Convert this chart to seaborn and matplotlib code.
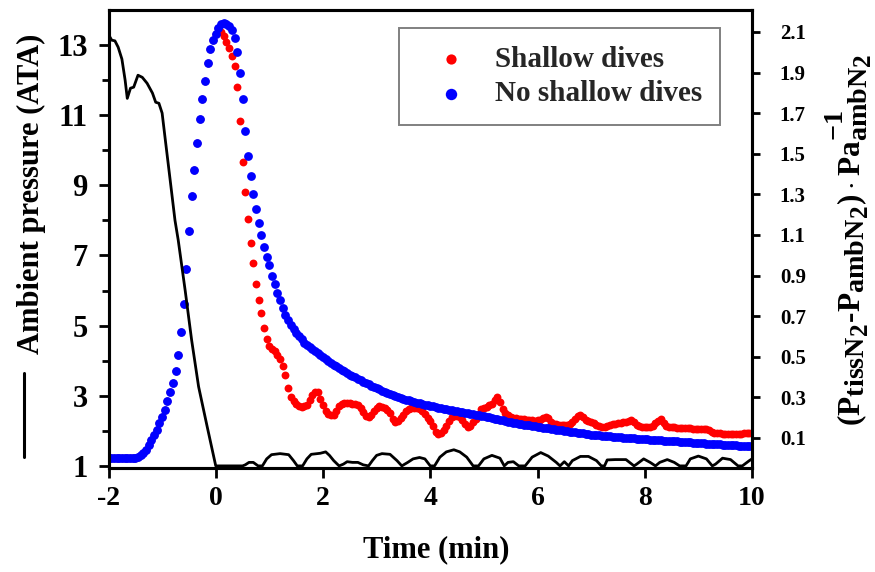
import numpy as np
import pandas as pd
import matplotlib
matplotlib.use("Agg")
import matplotlib.pyplot as plt
import matplotlib._mathtext as _mt
import seaborn as sns
from matplotlib.lines import Line2D

# ---------------- data ----------------
# sampling grid of the two tissue-tension series (min)
t_start, t_stop, t_step = -2.0, 10.0, 0.05

# common part of both series (t = -2.00 ... 0.05)
rise_common = [0.0, 0.0, 0.0, 0.0, 0.0, 0.0, 0.0, 0.0, 0.0,
               0.001, 0.002, 0.006, 0.014, 0.025, 0.042, 0.065, 0.09, 0.115, 0.14, 0.172,
               0.205, 0.24, 0.28, 0.325, 0.37, 0.43, 0.51, 0.62, 0.76, 0.93,
               1.12, 1.29, 1.42, 1.555, 1.67, 1.77, 1.86, 1.945, 2.015, 2.06,
               2.09, 2.12]

# "Shallow dives" after t = 0.05 (t = 0.10 ... 10.00)
shallow_after = [
    2.10, 2.08, 2.05, 2.02, 1.98, 1.93, 1.83, 1.66, 1.46, 1.31,
    1.18, 1.06, 0.96, 0.86, 0.78, 0.714, 0.64, 0.585, 0.555, 0.54,
    0.53, 0.51, 0.49, 0.455, 0.41, 0.345, 0.30, 0.28, 0.265, 0.255,
    0.254, 0.256, 0.263, 0.285, 0.31, 0.325, 0.325, 0.29, 0.26, 0.235,
    0.22, 0.213, 0.213, 0.235, 0.255, 0.265, 0.27, 0.27, 0.27, 0.268,
    0.265, 0.26, 0.25, 0.23, 0.21, 0.205, 0.215, 0.232, 0.248, 0.255,
    0.252, 0.248, 0.24, 0.225, 0.195, 0.18, 0.185, 0.20, 0.215, 0.235,
    0.245, 0.248, 0.25, 0.25, 0.245, 0.235, 0.22, 0.20, 0.185, 0.16,
    0.13, 0.12, 0.125, 0.14, 0.16, 0.185, 0.205, 0.21, 0.208, 0.205,
    0.19, 0.17, 0.156, 0.16, 0.18, 0.195, 0.22, 0.245, 0.25, 0.254,
    0.26, 0.268, 0.285, 0.30, 0.275, 0.245, 0.225, 0.212, 0.205, 0.20,
    0.197, 0.195, 0.193, 0.192, 0.19, 0.188, 0.186, 0.185, 0.186, 0.19,
    0.198, 0.205, 0.20, 0.178, 0.17, 0.168, 0.166, 0.165, 0.164, 0.165,
    0.17, 0.18, 0.195, 0.21, 0.213, 0.205, 0.19, 0.183, 0.178, 0.172,
    0.165, 0.16, 0.155, 0.155, 0.16, 0.165, 0.168, 0.17, 0.172, 0.175,
    0.177, 0.18, 0.185, 0.19, 0.18, 0.165, 0.157, 0.155, 0.154, 0.153,
    0.155, 0.16, 0.172, 0.185, 0.192, 0.175, 0.16, 0.155, 0.153, 0.152,
    0.15, 0.149, 0.148, 0.148, 0.148, 0.147, 0.146, 0.145, 0.145, 0.144,
    0.143, 0.142, 0.138, 0.13, 0.125, 0.123, 0.122, 0.121, 0.12, 0.12,
    0.12, 0.12, 0.12, 0.12, 0.121, 0.122, 0.123, 0.124, 0.123]

# "No shallow dives" after t = 0.05 (t = 0.10 ... 10.00)
noshallow_after = [
    2.14, 2.145, 2.14, 2.13, 2.11, 2.07, 2.00, 1.90, 1.77, 1.61,
    1.49, 1.39, 1.30, 1.23, 1.16, 1.10, 1.04, 0.99, 0.95, 0.90,
    0.86, 0.815, 0.78, 0.74, 0.705, 0.68, 0.655, 0.635, 0.618, 0.60,
    0.585, 0.57, 0.558, 0.547, 0.537, 0.527, 0.517, 0.507, 0.497, 0.487,
    0.477, 0.468, 0.46, 0.452, 0.444, 0.436, 0.428, 0.42, 0.412, 0.405,
    0.398, 0.391, 0.385, 0.378, 0.372, 0.365, 0.358, 0.351, 0.345, 0.339,
    0.333, 0.328, 0.323, 0.318, 0.313, 0.308, 0.303, 0.298, 0.293, 0.289,
    0.285, 0.281, 0.278, 0.274, 0.271, 0.267, 0.264, 0.261, 0.258, 0.255,
    0.252, 0.249, 0.246, 0.244, 0.241, 0.238, 0.236, 0.233, 0.231, 0.228,
    0.226, 0.223, 0.221, 0.218, 0.216, 0.213, 0.211, 0.208, 0.206, 0.204,
    0.201, 0.198, 0.195, 0.192, 0.189, 0.186, 0.184, 0.181, 0.178, 0.176,
    0.173, 0.171, 0.169, 0.166, 0.164, 0.162, 0.16, 0.157, 0.155, 0.153,
    0.151, 0.149, 0.147, 0.145, 0.143, 0.141, 0.139, 0.137, 0.135, 0.133,
    0.131, 0.129, 0.127, 0.125, 0.123, 0.122, 0.12, 0.119, 0.117, 0.116,
    0.114, 0.113, 0.112, 0.11, 0.109, 0.108, 0.106, 0.105, 0.104, 0.103,
    0.102, 0.101, 0.1, 0.099, 0.098, 0.097, 0.096, 0.095, 0.094, 0.093,
    0.092, 0.091, 0.09, 0.089, 0.088, 0.087, 0.086, 0.085, 0.084, 0.083,
    0.083, 0.082, 0.081, 0.08, 0.079, 0.078, 0.077, 0.076, 0.075, 0.074,
    0.073, 0.072, 0.071, 0.07, 0.07, 0.069, 0.068, 0.067, 0.066, 0.065,
    0.064, 0.064, 0.063, 0.062, 0.061, 0.061, 0.06, 0.06, 0.06]

# ambient pressure profile (left axis, ATA)
press_time = [-2.0, -1.94, -1.88, -1.82, -1.75, -1.69, -1.65, -1.59, -1.53, -1.45,
              -1.37, -1.28, -1.18, -1.12, -1.06, -1.0, -0.94, -0.85, -0.76, -0.7,
              -0.57, -0.45, -0.32, -0.16, 0.0,
              0.5, 0.55, 0.62, 0.7, 0.79, 0.87, 0.95, 1.04, 1.2, 1.36,
              1.45, 1.52, 1.62, 1.7, 1.78, 1.95, 2.05, 2.12, 2.2, 2.3,
              2.38, 2.45, 2.55, 2.65, 2.75, 2.85, 2.92, 3.0, 3.1, 3.25,
              3.38, 3.47, 3.58, 3.68, 3.8, 3.9, 4.0, 4.08, 4.18, 4.3,
              4.44, 4.55, 4.68, 4.8, 4.9, 5.0, 5.15, 5.3, 5.38, 5.45,
              5.55, 5.65, 5.77, 5.9, 6.06, 6.2, 6.35, 6.42, 6.5, 6.58,
              6.65, 6.8, 6.95, 7.1, 7.19, 7.25, 7.3, 7.45, 7.65, 7.8,
              7.85, 7.98, 8.1, 8.2, 8.28, 8.42, 8.55, 8.65, 8.77, 8.85,
              9.0, 9.15, 9.26, 9.32, 9.45, 9.6, 9.74, 9.82, 9.95, 10.0]
press_ata = [13.3, 13.14, 13.12, 12.94, 12.6, 12.0, 11.48, 11.77, 11.8, 12.14,
             12.08, 11.91, 11.63, 11.37, 11.34, 11.06, 10.29, 9.15, 8.0, 7.44,
             6.0, 4.59, 3.26, 2.12, 1.0,
             1.0, 1.03, 1.1, 1.1, 1.0, 1.0, 1.2, 1.32, 1.35, 1.32,
             1.15, 1.0, 1.0, 1.2, 1.33, 1.36, 1.4, 1.3, 1.15, 1.0,
             1.05, 1.12, 1.1, 1.1, 1.03, 1.0, 1.15, 1.3, 1.35, 1.33,
             1.15, 1.0, 1.1, 1.2, 1.24, 1.2, 1.0, 1.0, 1.25, 1.4,
             1.46, 1.4, 1.25, 1.0, 1.0, 1.2, 1.3, 1.22, 1.0, 1.1,
             1.12, 1.0, 1.0, 1.25, 1.38, 1.28, 1.1, 1.0, 1.12, 1.0,
             1.15, 1.27, 1.27, 1.15, 1.0, 1.0, 1.17, 1.18, 1.18, 1.0,
             1.05, 1.2, 1.1, 1.0, 1.1, 1.18, 1.1, 1.0, 1.0, 1.2,
             1.28, 1.2, 1.0, 1.05, 1.22, 1.18, 1.0, 1.0, 1.15, 1.2]

series_labels = ["Shallow dives", "No shallow dives"]
left_ticks = [1, 3, 5, 7, 9, 11, 13]
left_minor = [2, 4, 6, 8, 10, 12]
right_ticks = [0.1, 0.3, 0.5, 0.7, 0.9, 1.1, 1.3, 1.5, 1.7, 1.9, 2.1]
x_ticks = [-2, 0, 2, 4, 6, 8, 10]

# ---------------- styling ----------------
sns.set_theme(style="ticks")
plt.rcParams["font.family"] = ["Liberation Serif", "DejaVu Serif"]
plt.rcParams["font.weight"] = "bold"
plt.rcParams["mathtext.fontset"] = "custom"
plt.rcParams["mathtext.rm"] = "Liberation Serif:bold"
plt.rcParams["mathtext.it"] = "Liberation Serif:bold:italic"
plt.rcParams["mathtext.bf"] = "Liberation Serif:bold"
# larger sub/superscripts, as in the reference label
_mt.SHRINK_FACTOR = 0.9

t = np.round(np.arange(t_start, t_stop + 1e-9, t_step), 2)
shallow = rise_common + shallow_after
noshallow = rise_common + noshallow_after
df = pd.DataFrame({"t": t, "shallow": shallow, "noshallow": noshallow})
pdf = pd.DataFrame({"t": press_time, "P": press_ata})

W, H = 875, 572
fig = plt.figure(figsize=(W / 100, H / 100), dpi=100)
x0, x1, y0, y1 = 108.5, 752, 10, 468
ax = fig.add_axes([x0 / W, 1 - y1 / H, (x1 - x0) / W, (y1 - y0) / H])
ax2 = ax.twinx()

sns.scatterplot(data=df, x="t", y="shallow", ax=ax2, color="#ff0000",
                s=32, linewidth=0, legend=False)
sns.scatterplot(data=df, x="t", y="noshallow", ax=ax2, color="#0000ff",
                s=40, linewidth=0, legend=False)
sns.lineplot(data=pdf, x="t", y="P", ax=ax, color="black", lw=2.0,
             legend=False, sort=False)

ax.set_zorder(ax2.get_zorder() + 1)
ax.patch.set_visible(False)

ax.set_xlim(-2, 10)
ax.set_ylim(0.94, 14.0)
ax2.set_ylim(-0.048, 2.208)

ax.set_xticks(x_ticks)
ax.set_xticklabels([str(v) for v in x_ticks])
ax.set_yticks(left_ticks)
ax.set_yticklabels([str(v) for v in left_ticks])
ax.set_yticks(left_minor, minor=True)
ax2.set_yticks(right_ticks)
ax2.set_yticklabels([f"{v:.1f}" for v in right_ticks])

ax.tick_params(axis="x", which="major", direction="out", length=7, width=2,
               labelsize=20, pad=6, color="black", labelcolor="black")
ax.tick_params(axis="y", which="major", direction="out", length=7, width=2,
               labelsize=22, pad=8, color="black", labelcolor="black")
ax.tick_params(axis="y", which="minor", direction="out", length=5, width=2,
               color="black", left=True)
ax2.tick_params(axis="y", which="major", direction="out", length=6, width=2,
                labelsize=15, pad=14, color="black", labelcolor="black")

for a in (ax, ax2):
    for sp in a.spines.values():
        sp.set_linewidth(2.2)
        sp.set_color("black")
        sp.set_visible(True)

ax.set_xlabel("Time (min)", fontsize=22, fontweight="bold", color="black")
ax.xaxis.label.set_va("center")
ax.xaxis.set_label_coords((436 - x0) / (x1 - x0), (y1 - 550) / (y1 - y0))

ax.set_ylabel("Ambient pressure (ATA)", fontsize=22, fontweight="bold", color="black")
ax.yaxis.label.set_va("center")
ax.yaxis.set_label_coords((31 - x0) / (x1 - x0), (y1 - 194) / (y1 - y0))
fig.add_artist(Line2D([24 / W, 24 / W], [1 - 457 / H, 1 - 373 / H],
                      color="black", lw=2.2, transform=fig.transFigure))

ax2.set_ylabel(r"$(\mathrm{P}_{\mathrm{tissN}_2}\text{-}\mathrm{P}_{\mathrm{ambN}_2})"
               r"\cdot\mathrm{Pa}_{\mathrm{ambN}_2}^{\mathrm{-1}}$",
               fontsize=22.5, color="black", rotation=90)
ax2.yaxis.label.set_va("center")
ax2.yaxis.set_label_coords((849 - x0) / (x1 - x0), (y1 - 240) / (y1 - y0))

handles = ax2.collections[:2]
leg = ax.legend(handles=handles, labels=series_labels, loc="upper right",
                bbox_to_anchor=((720 - x0) / (x1 - x0), (y1 - 28) / (y1 - y0)),
                borderaxespad=0, fontsize=21, frameon=True, fancybox=False,
                framealpha=1, edgecolor="#808080", borderpad=0.62,
                handlelength=2.3, handletextpad=0.35, labelspacing=0.25,
                scatterpoints=1, markerscale=1.3)
leg.get_frame().set_linewidth(1.4)

fig.savefig("out.png", dpi=100)
